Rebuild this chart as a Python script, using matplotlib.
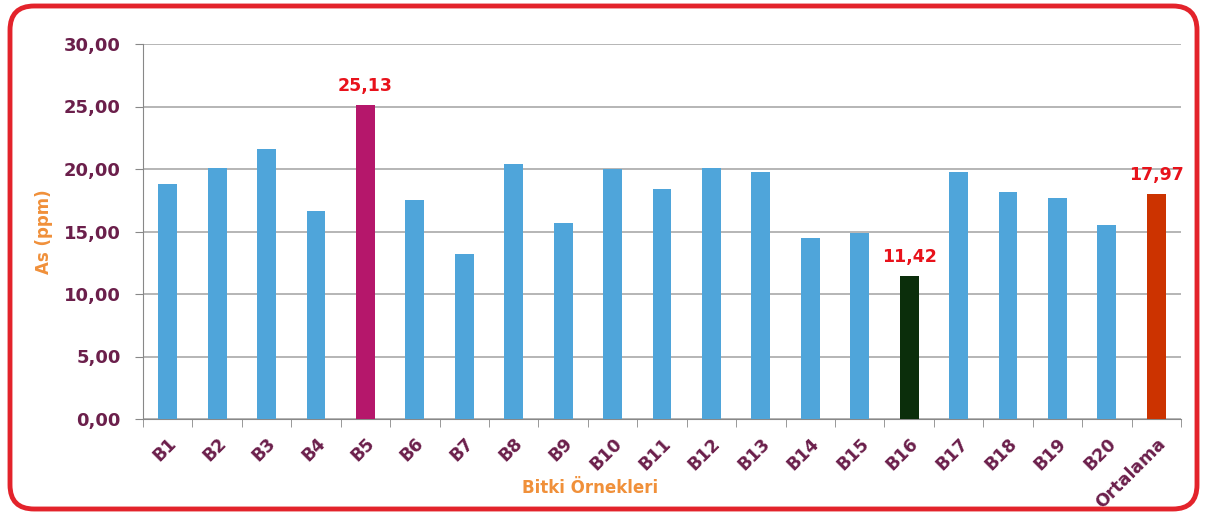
import matplotlib.pyplot as plt
import numpy as np
from matplotlib.patches import FancyBboxPatch

# datos
etiquetas = ["B1", "B2", "B3", "B4", "B5", "B6", "B7", "B8", "B9", "B10",
             "B11", "B12", "B13", "B14", "B15", "B16", "B17", "B18", "B19", "B20",
             "Ortalama"]
valores = [18.8, 20.1, 21.6, 16.6, 25.13, 17.5, 13.2, 20.4, 15.7, 20.0,
           18.4, 20.1, 19.8, 14.5, 14.9, 11.42, 19.8, 18.2, 17.7, 15.5,
           17.97]
etiquetas_valor = {4: "25,13", 15: "11,42", 20: "17,97"}

azul = "#4FA5DA"
colores = [azul] * len(valores)
colores[4] = "#B5176B"
colores[15] = "#0B2E0B"
colores[20] = "#CC3300"

morado = "#6B1F4B"
naranja = "#F0903A"

fig = plt.figure(figsize=(12.05, 5.15), dpi=100)
ax = fig.add_axes([143 / 1205, 1 - 419 / 515, (1181 - 143) / 1205, (419 - 44) / 515])

x = np.arange(len(valores))
ax.bar(x, valores, width=0.38, color=colores, zorder=3)

for i, txt in etiquetas_valor.items():
    ax.text(x[i], valores[i] + 0.8, txt, ha="center", va="bottom",
            color="#E8121B", fontsize=12.5, fontweight="bold")

ax.set_xlim(-0.5, len(valores) - 0.5)
ax.set_ylim(0, 30)
ax.set_yticks(np.arange(0, 31, 5))
ax.set_yticklabels([f"{v:.2f}".replace(".", ",") for v in np.arange(0, 31, 5)],
                   color=morado, fontsize=13, fontweight="bold")
ax.yaxis.grid(True, color="#B0B0B0", linewidth=1.3, zorder=0)
ax.tick_params(axis="y", length=6, color="#888888", pad=10)

ax.set_xticks(x)
ax.set_xticklabels(etiquetas, rotation=45, ha="right", rotation_mode="anchor",
                   color=morado, fontsize=12.5, fontweight="bold")
ax.tick_params(axis="x", which="major", length=0, pad=11)
ax.set_xticks(np.arange(-0.5, len(valores)), minor=True)
ax.tick_params(axis="x", which="minor", length=6, color="#888888")

for s in ["top", "right"]:
    ax.spines[s].set_visible(False)
ax.spines["left"].set_color("#888888")
ax.spines["bottom"].set_color("#888888")

fig.text(590 / 1205, 1 - 488 / 515, "Bitki Örnekleri", color=naranja, fontsize=12,
         fontweight="bold", ha="center", va="center")
ax.set_ylabel("As (ppm)", color=naranja, fontsize=12, fontweight="bold", labelpad=8)

# borde rojo redondeado
borde = FancyBboxPatch((10 / 1205, 6 / 515), 1187 / 1205, 503 / 515,
                       boxstyle="round,pad=0,rounding_size=0.02",
                       transform=fig.transFigure, fill=False,
                       edgecolor="#E3232B", linewidth=3.5, mutation_aspect=1205 / 515)
fig.patches.append(borde)

fig.savefig("out.png", dpi=100)
